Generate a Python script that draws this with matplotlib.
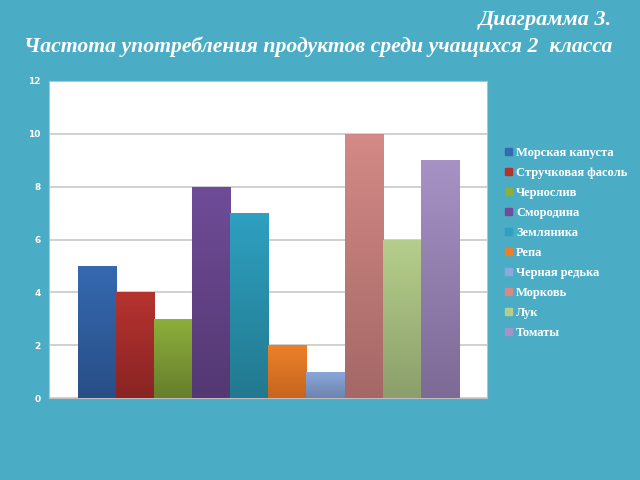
import matplotlib.pyplot as plt
import matplotlib.colors as mcolors
import numpy as np

products = ['Морская капуста', 'Стручковая фасоль', 'Чернослив', 'Смородина',
            'Земляника', 'Репа', 'Черная редька', 'Морковь', 'Лук', 'Томаты']
counts = [5, 4, 3, 8, 7, 2, 1, 10, 6, 9]
top_colors = ['#3569B0', '#B5332F', '#8DAE3C', '#704C98', '#2EA0C0',
              '#EC8028', '#8CA8DC', '#D48A86', '#B6CE8C', '#A692C4']
bottom_colors = ['#294E86', '#8A2424', '#667F2C', '#533872', '#22798F',
                 '#C6651E', '#6C84AE', '#A46866', '#8C9F6C', '#7E6A96']

bg = '#4BACC6'
fig = plt.figure(figsize=(6.4, 4.8), dpi=100, facecolor=bg)
ax = fig.add_axes([49 / 640, 82 / 480, 438 / 640, 317 / 480])
ax.set_facecolor('white')

x = np.arange(len(counts))
bars = ax.bar(x, counts, width=1.0, color=top_colors, zorder=2)

# vertical gradient inside every bar
for b, c1, c2 in zip(bars, top_colors, bottom_colors):
    cmap = mcolors.LinearSegmentedColormap.from_list('g', [c2, c1])
    x0, y0 = b.get_x(), b.get_y()
    w, h = b.get_width(), b.get_height()
    grad = np.linspace(0, 1, 100).reshape(-1, 1)
    im = ax.imshow(grad, cmap=cmap, aspect='auto', origin='lower',
                   extent=[x0, x0 + w, y0, y0 + h], zorder=3)
    im.set_clip_path(b)

ax.set_xlim(-1.26, 10.24)
ax.set_ylim(0, 12)
ax.set_yticks(range(0, 13, 2))
ax.set_xticks([])
ax.yaxis.grid(True, color='#C8C8C8', linewidth=1.2, zorder=1)
ax.set_axisbelow(True)
for s in ax.spines.values():
    s.set_color('#BFBFBF')
ax.tick_params(axis='y', length=0, pad=6, labelsize=6.5, labelcolor='white')
for lab in ax.get_yticklabels():
    lab.set_fontweight('bold')

handles = [plt.Rectangle((0, 0), 1, 1, color=c) for c in top_colors]
leg = fig.legend(handles, products, loc='upper left', bbox_to_anchor=(505 / 640, 1 - 147 / 480),
                 frameon=False, borderpad=0, borderaxespad=0,
                 handlelength=0.55, handleheight=0.55, handletextpad=0.35,
                 labelspacing=0.64, prop={'family': 'Liberation Serif', 'weight': 'bold', 'size': 9})
for t in leg.get_texts():
    t.set_color('white')

fig.text(612 / 640, 1 - 20 / 480, 'Диаграмма 3.', ha='right', va='center', color='white',
         family='Liberation Serif', style='italic', weight='bold', fontsize=16)
fig.text(612 / 640, 1 - 47 / 480, 'Частота употребления продуктов среди учащихся 2  класса',
         ha='right', va='center', color='white',
         family='Liberation Serif', style='italic', weight='bold', fontsize=15.7)

fig.savefig('out.png', dpi=100, facecolor=bg)
